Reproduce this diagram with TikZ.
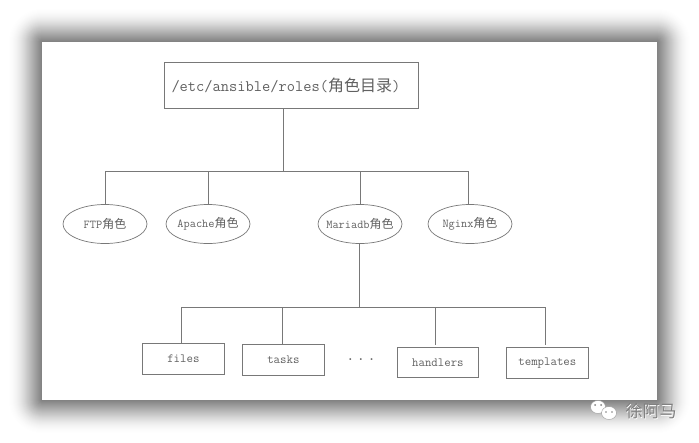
\documentclass[tikz,border=0pt]{standalone}
\usepackage{fontspec}
\setmonofont{Latin Modern Mono}
\newfontfamily\cjk{Noto Sans CJK SC}
\usetikzlibrary{shapes.geometric}
\definecolor{ink}{gray}{0.47}
\definecolor{txt}{gray}{0.38}
\newcommand{\ctext}[1]{\makebox[0pt]{#1}}
\tikzset{
  bx/.style={draw=ink,line width=0.8pt,fill=white,inner sep=0,anchor=north west,text=txt,font=\ttfamily\fontsize{12.5}{12.5}\selectfont},
  oval/.style={ellipse,draw=ink,line width=0.7pt,inner sep=0,minimum width=84pt,minimum height=39pt,text=txt,font=\ttfamily\fontsize{12}{12}\selectfont},
  lk/.style={draw=ink,line width=0.8pt}
}
\begin{document}
\begin{tikzpicture}[x=1pt,y=-1pt]
\useasboundingbox (0,0) rectangle (699,442);
\fill[white] (0,0) rectangle (699,442);
% soft shadow round the sheet
\foreach \d in {34,33,...,1}{
  \pgfmathsetmacro{\op}{0.0010*(35-\d)}
  \fill[black,opacity=\op,rounded corners=\d pt] (42-\d,42-\d) rectangle (657+\d,400+\d);
}
\fill[white] (42,42) rectangle (657,400);
% nodes
\node[bx,minimum width=254pt,minimum height=46pt,font=\ttfamily\fontsize{16}{16}\selectfont] (root) at (164,62) {\hspace*{-11pt}/etc/ansible/roles({\cjk 角色目录})};
\coordinate (j1) at (283,171);
\coordinate (busA) at (105,171);
\coordinate (busB) at (468,171);
\node[oval] (ftp) at (105,224) {\ctext{FTP{\cjk 角色}}};
\node[oval] (apache) at (208,224) {\ctext{Apache{\cjk 角色}}};
\node[oval] (maria) at (360,224) {\ctext{Mariadb{\cjk 角色}}};
\node[oval] (nginx) at (470,224) {\ctext{Nginx{\cjk 角色}}};
\coordinate (j2) at (359,307);
\coordinate (busC) at (181,307);
\coordinate (busD) at (545,307);
\node[bx,minimum width=82pt,minimum height=31pt] (files) at (142,343) {files};
\node[bx,minimum width=82pt,minimum height=31pt] (tasks) at (242,344) {tasks};
\node[bx,minimum width=81pt,minimum height=30pt] (handlers) at (397,347) {handlers};
\node[bx,minimum width=82pt,minimum height=31pt] (templates) at (506,347) {templates};
\node[text=txt,font=\bfseries\fontsize{13}{13}\selectfont] (dots) at (361,360) {. . .};
% connectors
\draw[lk] (root.south -| j1) -- (j1);
\draw[lk] (busA) -- (busB);
\draw[lk] (busA) -- (ftp.north -| busA);
\draw[lk] (apache.north) -- (apache.north |- busA);
\draw[lk] (maria.north) -- (maria.north |- busA);
\draw[lk] (busB) -- (nginx.north -| busB);
\draw[lk] (maria.south -| j2) -- (j2);
\draw[lk] (busC) -- (busD);
\draw[lk] (busC) -- (files.north -| busC);
\draw[lk] (282,307) coordinate (j3) -- (tasks.north -| j3);
\draw[lk] (435,307) coordinate (j4) -- (435,345);
\draw[lk] (busD) -- (545,345);
% watermark
\begin{scope}[fill=white,draw=black!40,line width=0.4pt]
\filldraw (598,407) ellipse (7.5 and 6.5);
\filldraw (609,413) ellipse (7.5 and 6.5);
\fill[black!50] (595,405) circle (1) (601,405) circle (1) (606,412) circle (0.9) (612,412) circle (0.9);
\end{scope}
\node[text=white,font=\cjk\fontsize{17}{17}\selectfont] (wms) at (651.7,411.7) {徐阿马};
\node[text=black!50,font=\cjk\fontsize{17}{17}\selectfont] (wm) at (651,411) {徐阿马};
\end{tikzpicture}
\end{document}
